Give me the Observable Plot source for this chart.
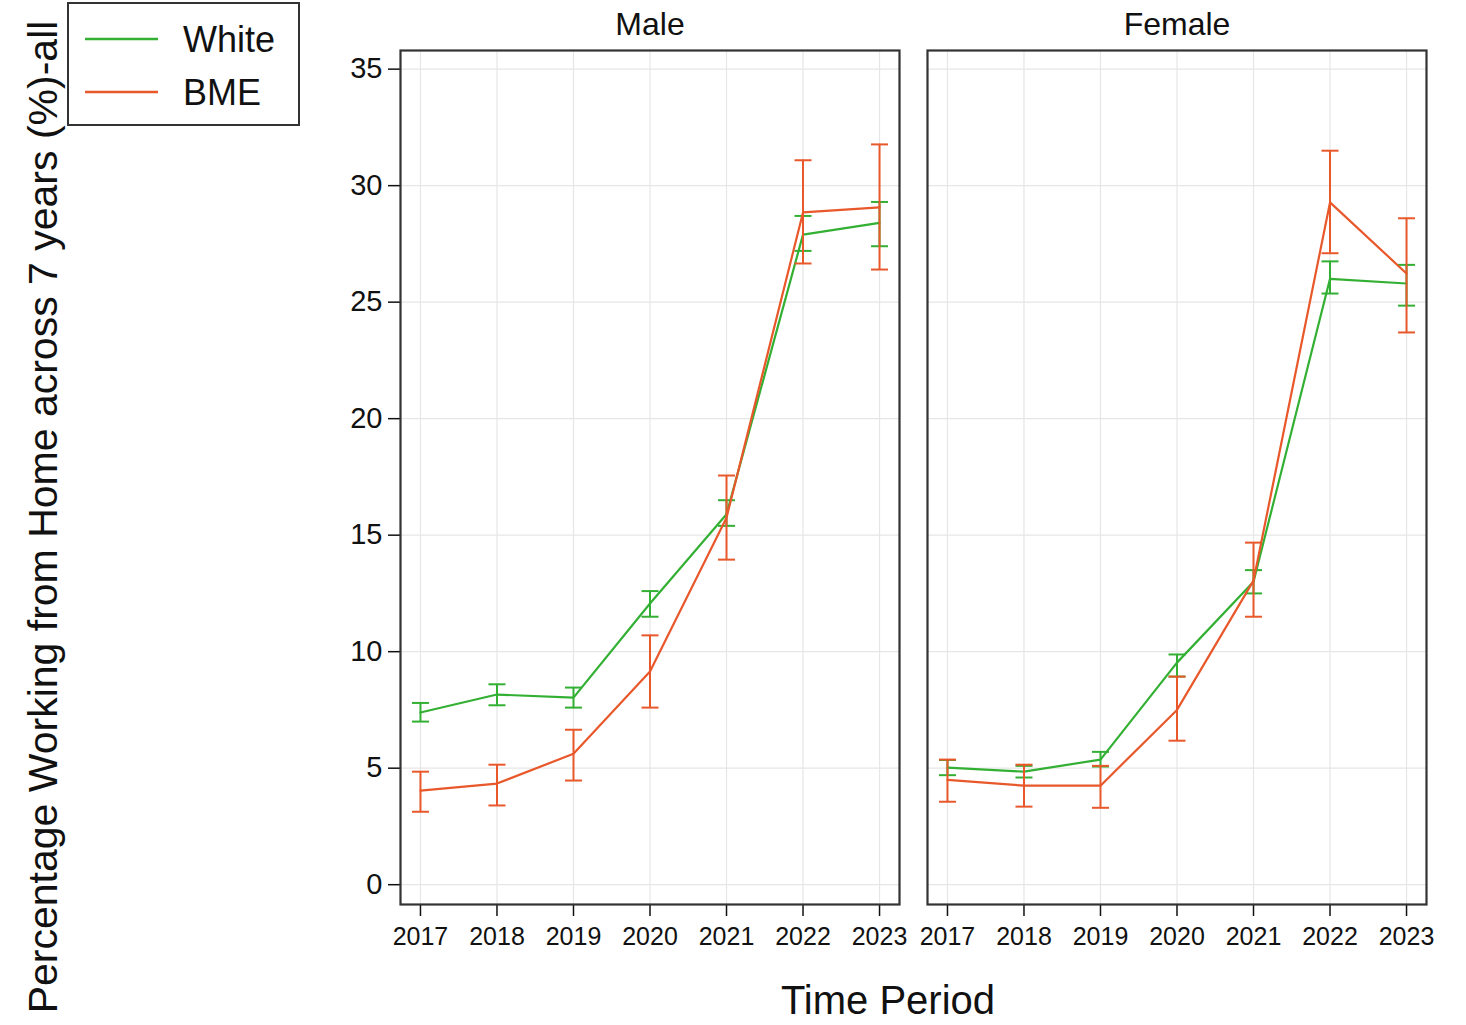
<!DOCTYPE html>
<html>
<head>
<meta charset="utf-8">
<script src="https://cdn.jsdelivr.net/npm/d3@7"></script>
<script src="https://cdn.jsdelivr.net/npm/@observablehq/plot@0.6"></script>
<style>
  body { margin: 0; background: white; }
  #wrap { position: relative; width: 1466px; height: 1025px; }
  #overlay { position: absolute; left: 0; top: 0; pointer-events: none; }
</style>
</head>
<body>
<div id="wrap"><div id="chart"></div><svg id="overlay" width="1466" height="1025"></svg></div>
<script>
const years = [2017, 2018, 2019, 2020, 2021, 2022, 2023];
const sexes = ["Male", "Female"];
const groups = ["White", "BME"];
const colors = ["#33b033", "#e8582b"];
const yTicks = [0, 5, 10, 15, 20, 25, 30, 35];
const yTitle = "Percentage Working from Home across 7 years (%)-all";
const xTitle = "Time Period";

const maleWhite   = [7.39, 8.16, 8.03, 12.07, 15.9, 27.9, 28.4];
const maleWhiteLo = [7.0, 7.7, 7.6, 11.5, 15.4, 27.2, 27.4];
const maleWhiteHi = [7.8, 8.6, 8.46, 12.6, 16.5, 28.7, 29.3];
const maleBME     = [4.04, 4.34, 5.62, 9.15, 15.75, 28.85, 29.07];
const maleBMELo   = [3.13, 3.4, 4.47, 7.6, 13.95, 26.66, 26.4];
const maleBMEHi   = [4.85, 5.15, 6.65, 10.7, 17.56, 31.09, 31.77];
const femaleWhite   = [5.02, 4.85, 5.37, 9.53, 13.0, 26.0, 25.8];
const femaleWhiteLo = [4.7, 4.6, 5.07, 8.93, 12.5, 25.37, 24.85];
const femaleWhiteHi = [5.35, 5.1, 5.7, 9.88, 13.5, 26.75, 26.6];
const femaleBME     = [4.5, 4.25, 4.25, 7.5, 13.05, 29.28, 26.23];
const femaleBMELo   = [3.56, 3.35, 3.3, 6.18, 11.5, 27.1, 23.7];
const femaleBMEHi   = [5.37, 5.15, 5.1, 8.93, 14.68, 31.5, 28.6];

const series = [
  ["Male", "White", maleWhite, maleWhiteLo, maleWhiteHi],
  ["Male", "BME", maleBME, maleBMELo, maleBMEHi],
  ["Female", "White", femaleWhite, femaleWhiteLo, femaleWhiteHi],
  ["Female", "BME", femaleBME, femaleBMELo, femaleBMEHi]
];
const data = series.flatMap(([sex, group, m, lo, hi]) =>
  years.map((year, i) => ({sex, group, year, mean: m[i], lo: lo[i], hi: hi[i]})));

const font = "'Liberation Sans', Arial, Helvetica, sans-serif";
const cap = { draw(ctx) { ctx.moveTo(-8.5, 0); ctx.lineTo(8.5, 0); } };

const groupMarks = groups.flatMap((g, gi) => {
  const d = data.filter(r => r.group === g);
  const c = colors[gi];
  return [
    Plot.ruleX(d, {x: "year", y1: "lo", y2: "hi", fx: "sex", stroke: c, strokeWidth: 2}),
    Plot.dot(d, {x: "year", y: "lo", fx: "sex", symbol: cap, stroke: c, fill: "none", strokeWidth: 2}),
    Plot.dot(d, {x: "year", y: "hi", fx: "sex", symbol: cap, stroke: c, fill: "none", strokeWidth: 2}),
    Plot.line(d, {x: "year", y: "mean", fx: "sex", stroke: c, strokeWidth: 2.2})
  ];
});

const chart = Plot.plot({
  width: 1466,
  height: 1025,
  marginLeft: 400,
  marginRight: 39,
  marginTop: 50,
  marginBottom: 121,
  style: {fontFamily: font, background: "white", color: "#111"},
  fx: {domain: sexes, paddingInner: 0.0531, paddingOuter: 0, label: null, axis: null},
  x: {domain: [2016.739, 2023.261], axis: null},
  y: {domain: [-0.85, 35.8], axis: null},
  marks: [
    Plot.gridX({ticks: years, stroke: "#e6e6e6", strokeOpacity: 1, strokeWidth: 1.2}),
    Plot.gridY({ticks: yTicks, stroke: "#e6e6e6", strokeOpacity: 1, strokeWidth: 1.2}),
    Plot.axisFx({anchor: "top", label: null, tickSize: 0, tickPadding: 16, fontSize: 32}),
    Plot.axisX({ticks: years, tickFormat: d => String(d), tickSize: 12, tickPadding: 11, fontSize: 25, label: null, strokeWidth: 1.5}),
    Plot.axisY({ticks: yTicks, tickSize: 12, tickPadding: 6, fontSize: 29, label: null, strokeWidth: 1.5}),
    ...groupMarks,
    Plot.frame({stroke: "#333", strokeWidth: 2.2})
  ]
});
document.getElementById("chart").appendChild(chart);

// Overlay: legend, axis titles
const svg = d3.select("#overlay").style("font-family", font);
svg.append("text")
  .attr("transform", "translate(57,517) rotate(-90)")
  .attr("text-anchor", "middle")
  .attr("font-size", 41)
  .attr("fill", "#111")
  .text(yTitle);
svg.append("text")
  .attr("x", 888).attr("y", 1014)
  .attr("text-anchor", "middle")
  .attr("font-size", 40)
  .attr("fill", "#111")
  .text(xTitle);

const lg = svg.append("g");
lg.append("rect").attr("x", 68).attr("y", 3).attr("width", 231).attr("height", 122)
  .attr("fill", "white").attr("stroke", "#333").attr("stroke-width", 2);
groups.forEach((g, i) => {
  const cy = 39 + i * 53;
  lg.append("line").attr("x1", 85).attr("x2", 158).attr("y1", cy).attr("y2", cy)
    .attr("stroke", colors[i]).attr("stroke-width", 2.5);
  lg.append("text").attr("x", 183).attr("y", cy + 13).attr("font-size", 36)
    .attr("fill", "#111").text(g);
});
</script>
</body>
</html>
